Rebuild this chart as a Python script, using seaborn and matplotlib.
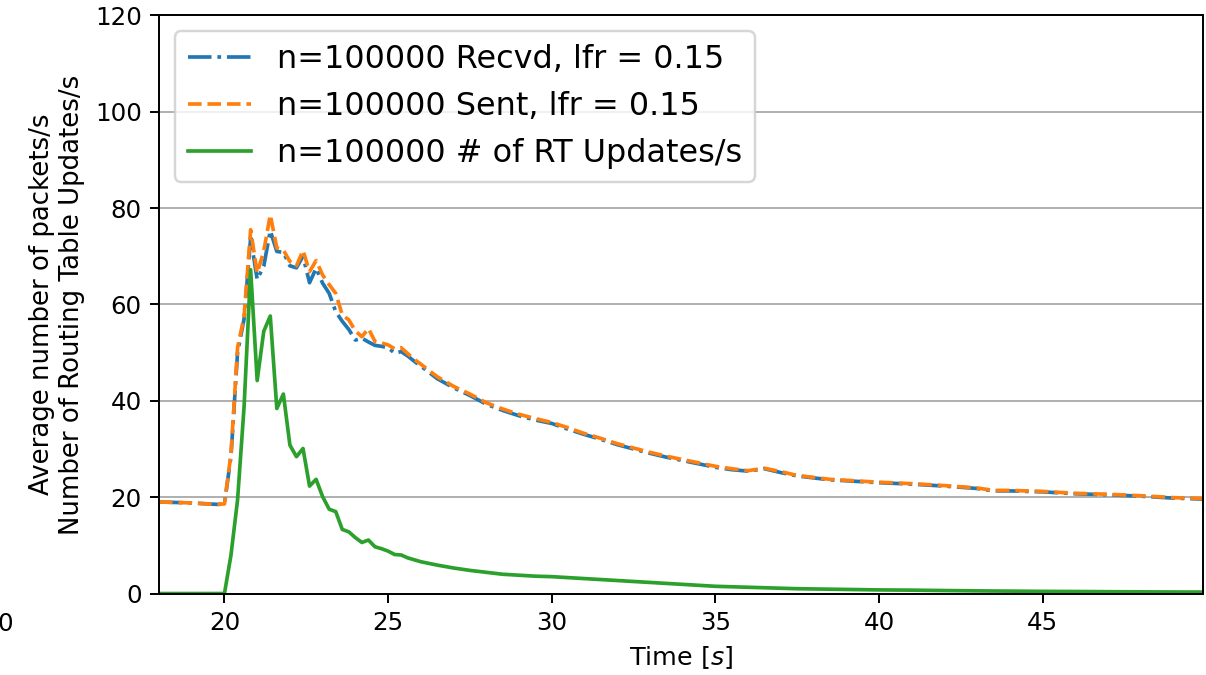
import matplotlib
matplotlib.use("Agg")
import matplotlib.pyplot as plt
import numpy as np
import pandas as pd
import seaborn as sns


# time axis [s]
t_s = [18.0, 18.5, 19.0, 19.5, 19.8, 20.0, 20.2, 20.4, 20.6, 20.8,
       21.0, 21.2, 21.4, 21.6, 21.8, 22.0, 22.2, 22.4, 22.6, 22.8,
       23.0, 23.2, 23.4, 23.6, 23.8, 24.0, 24.2, 24.4, 24.6, 24.8,
       25.0, 25.2, 25.4, 25.6, 25.8, 26.0, 26.5, 27.0, 27.5, 28.0,
       28.5, 29.0, 29.5, 30.0, 30.5, 31.0, 31.5, 32.0, 32.5, 33.0,
       33.5, 34.0, 34.5, 35.0, 35.5, 36.0, 36.5, 37.0, 37.5, 38.0,
       38.5, 39.0, 40.0, 41.0, 42.0, 43.0, 43.5, 44.0, 45.0, 46.0,
       47.0, 48.0, 49.0, 49.9]

recvd = [19.0, 18.9, 18.8, 18.6, 18.5, 18.6, 28.5, 50.0, 57.0, 73.8,
         65.2, 67.9, 75.3, 71.0, 70.8, 68.0, 67.6, 70.0, 64.5, 67.5,
         64.4, 62.3, 58.5, 56.5, 54.8, 52.6, 53.0, 52.2, 51.5, 51.3,
         51.0, 49.9, 50.2, 49.3, 48.2, 47.2, 44.6, 42.7, 41.1, 39.3,
         38.0, 36.9, 36.0, 35.3, 34.1, 33.0, 32.0, 30.9, 30.0, 29.1,
         28.3, 27.6, 26.9, 26.2, 25.7, 25.4, 25.9, 25.1, 24.4, 24.0,
         23.6, 23.4, 23.0, 22.7, 22.3, 21.8, 21.3, 21.3, 21.1, 20.7,
         20.5, 20.2, 19.8, 19.6]

sent = [19.0, 18.9, 18.8, 18.6, 18.5, 18.6, 29.0, 51.0, 57.5, 75.5,
        66.5, 71.0, 78.6, 71.7, 71.3, 68.9, 68.0, 71.2, 66.8, 69.1,
        66.1, 64.1, 62.3, 57.8, 56.8, 54.5, 53.3, 55.0, 52.3, 52.0,
        51.6, 50.8, 51.0, 49.8, 48.6, 47.6, 45.0, 43.0, 41.4, 39.6,
        38.3, 37.2, 36.3, 35.5, 34.4, 33.2, 32.2, 31.1, 30.2, 29.3,
        28.5, 27.8, 27.1, 26.4, 25.9, 25.5, 26.0, 25.3, 24.5, 24.1,
        23.7, 23.5, 23.1, 22.8, 22.4, 21.9, 21.4, 21.4, 21.2, 20.8,
        20.6, 20.3, 19.9, 19.7]

rt_updates = [0.0, 0.0, 0.0, 0.0, 0.0, 0.0, 8.0, 19.4, 38.8, 67.2,
              44.2, 54.4, 57.6, 38.4, 41.4, 30.8, 28.4, 30.1, 22.3, 23.7,
              20.1, 17.5, 17.0, 13.3, 12.8, 11.6, 10.6, 11.1, 9.7, 9.3,
              8.8, 8.1, 8.0, 7.4, 7.0, 6.6, 5.9, 5.3, 4.8, 4.4,
              4.0, 3.8, 3.6, 3.5, 3.3, 3.1, 2.9, 2.7, 2.5, 2.3,
              2.1, 1.9, 1.7, 1.5, 1.4, 1.3, 1.2, 1.1, 1.0, 0.95,
              0.9, 0.85, 0.75, 0.7, 0.62, 0.55, 0.52, 0.5, 0.45, 0.42,
              0.38, 0.35, 0.32, 0.3]

labels = ["n=100000 Recvd, lfr = 0.15",
          "n=100000 Sent, lfr = 0.15",
          "n=100000 # of RT Updates/s"]

df = pd.DataFrame({"t": t_s, "recvd": recvd, "sent": sent, "rt": rt_updates})

dpi = 176.4
fig = plt.figure(figsize=(1206 / dpi, 675 / dpi), dpi=dpi)
ax = fig.add_axes([159 / 1206, 0.1207, (1203 - 159) / 1206, 0.9773 - 0.1207])

pal = sns.color_palette("tab10")
sns.lineplot(data=df, x="t", y="recvd", ax=ax, color=pal[0], linestyle="-.", label=labels[0])
sns.lineplot(data=df, x="t", y="sent", ax=ax, color=pal[1], linestyle="--", label=labels[1])
sns.lineplot(data=df, x="t", y="rt", ax=ax, color=pal[2], linestyle="-", label=labels[2])

ax.set_xlim(18, 49.9)
ax.set_ylim(0, 120)
ax.set_yticks([0, 20, 40, 60, 80, 100, 120])
ax.grid(axis="y", color="#b0b0b0", linewidth=0.8)
ax.set_axisbelow(True)
ax.set_xlabel("Time [$s$]", fontsize=10.4)
ax.set_ylabel("Average number of packets/s\nNumber of Routing Table Updates/s", fontsize=10.6)
ax.legend(loc="upper left", fontsize=13)

fig.text(4.9 / 1206, 1 - 624 / 675, "0", ha="center", va="center", fontsize=10)

fig.savefig("out.png", dpi=dpi)
